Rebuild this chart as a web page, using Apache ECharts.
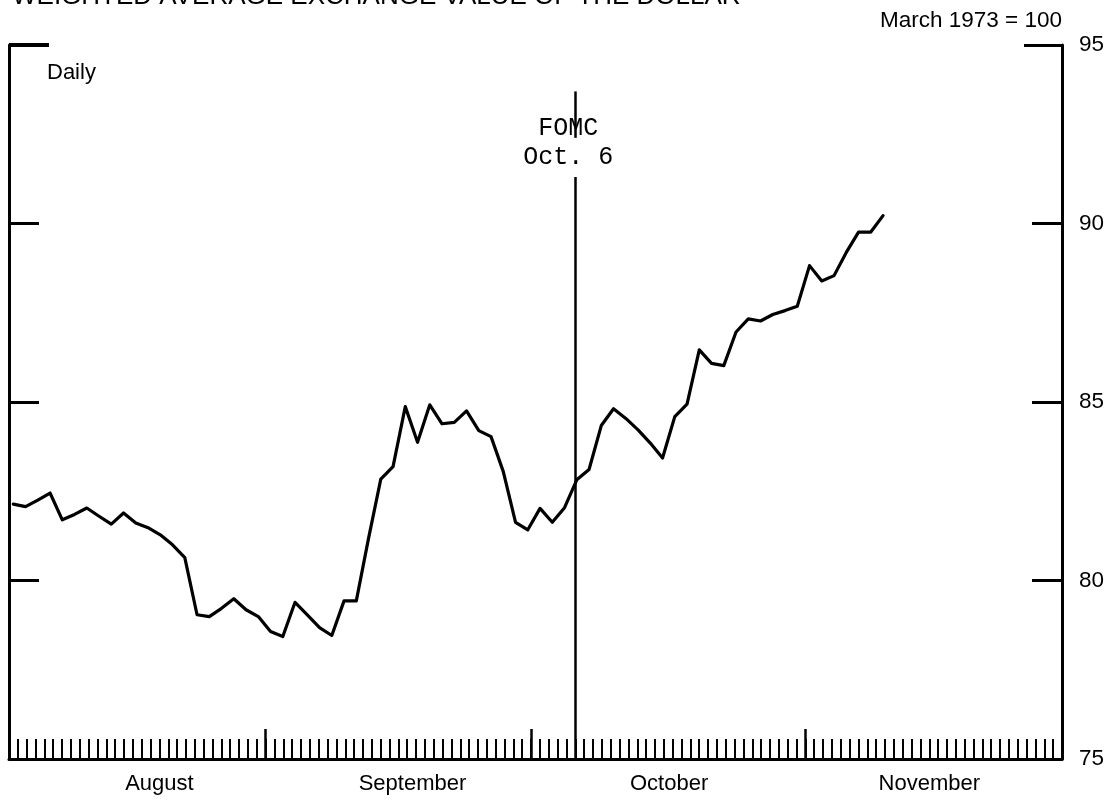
<!DOCTYPE html>
<html>
<head>
<meta charset="utf-8">
<title>Weighted Average Exchange Value of the Dollar</title>
<script src="https://cdn.jsdelivr.net/npm/echarts@6/dist/echarts.min.js"></script>
<style>
  html, body { margin: 0; padding: 0; background: #fff; }
  #chart { width: 1115px; height: 802px; }
</style>
</head>
<body>
<div id="chart"></div>
<script>
// Daily index values (March 1973 = 100), one per business day, in order.
const dailyIndex = [
  82.14, 82.07, 82.25, 82.45, 81.70, 81.85, 82.03, 81.80, 81.58, 81.89,
  81.61, 81.48, 81.28, 81.00, 80.64, 79.04, 78.99, 79.22, 79.49, 79.18,
  78.99, 78.57, 78.43, 79.39, 79.04, 78.68, 78.46, 79.43, 79.43, 81.18,
  82.84, 83.19, 84.87, 83.87, 84.92, 84.39, 84.43, 84.75, 84.20, 84.03,
  83.05, 81.63, 81.42, 82.02, 81.63, 82.04, 82.82, 83.11, 84.34, 84.81,
  84.54, 84.22, 83.85, 83.43, 84.59, 84.94, 86.46, 86.08, 86.02, 86.96,
  87.33, 87.27, 87.45, 87.56, 87.68, 88.82, 88.39, 88.54, 89.19, 89.76,
  89.76, 90.22
];

// Calendar: day numbers counted from August 1 = 1.
const monthNames = ['August', 'September', 'October', 'November'];
const monthStartDays = [32, 62, 93];          // Sep 1, Oct 1, Nov 1
const monthLabelDays = [20, 48.6, 77.6, 107];  // where each month name sits
const calendarStart = 3;                        // Aug 3
const calendarEnd = 122;                        // Nov 30

// FOMC meeting, Oct. 6
const fomcDay = 67;
const fomcLabel = ['FOMC', 'Oct. 6'];

// Index scale
const yTicks = [75, 80, 85, 90, 95];

const yMin = yTicks[0];
const yMax = yTicks[yTicks.length - 1];
const innerTicks = yTicks.filter(v => v > yMin && v < yMax);

const sans = 'Liberation Sans, Arial, Helvetica, sans-serif';
const mono = 'Liberation Mono, Courier New, monospace';
const ink = '#000';

const chart = echarts.init(document.getElementById('chart'), null, { renderer: 'canvas' });

const yBase = {
  type: 'value', min: yMin, max: yMax, interval: 5,
  splitLine: { show: false },
  axisLabel: { show: false }
};

chart.setOption({
  backgroundColor: '#fff',
  animation: false,
  title: [
    {
      text: 'WEIGHTED AVERAGE EXCHANGE VALUE OF THE DOLLAR',
      left: 12, top: -16, padding: 0,
      textStyle: { fontFamily: sans, fontSize: 26, lineHeight: 26, fontWeight: 'normal', color: ink }
    },
    {
      text: 'March 1973 = 100',
      right: 53, top: 9, padding: 0,
      textStyle: { fontFamily: sans, fontSize: 22.5, lineHeight: 23, fontWeight: 'normal', color: ink }
    },
    {
      text: 'Daily',
      left: 47, top: 62, padding: 0,
      textStyle: { fontFamily: sans, fontSize: 22, lineHeight: 22, fontWeight: 'normal', color: ink }
    }
  ],
  grid: { left: 9, right: 53, top: 45, bottom: 43, containLabel: false, outerBoundsMode: 'none' },
  xAxis: [
    { // calendar days with a tick for every day
      type: 'value', position: 'bottom',
      min: calendarStart, max: calendarEnd, interval: 1,
      splitLine: { show: false },
      axisLine: { show: true, onZero: false, lineStyle: { color: ink, width: 3 } },
      axisTick: { show: true, inside: true, length: 20, lineStyle: { color: ink, width: 2 } },
      axisLabel: {
        show: true,
        customValues: monthLabelDays,
        formatter: v => monthNames[monthLabelDays.indexOf(v)] || '',
        fontFamily: sans, fontSize: 22, lineHeight: 22, color: ink, margin: 14
      }
    },
    { // longer ticks at the start of each month
      type: 'value', position: 'bottom',
      min: calendarStart, max: calendarEnd,
      splitLine: { show: false },
      axisLine: { show: false, onZero: false },
      axisTick: { show: true, inside: true, length: 30, customValues: monthStartDays, lineStyle: { color: ink, width: 2.5 } },
      axisLabel: { show: false }
    },
    { // observation index for the daily series
      type: 'value', show: false,
      min: -0.351, max: 85.61,
      axisLine: { onZero: false }
    }
  ],
  yAxis: [
    Object.assign({}, yBase, {
      position: 'right',
      axisLine: { show: true, onZero: false, lineStyle: { color: ink, width: 3 } },
      axisTick: { show: true, inside: true, length: 30, customValues: innerTicks, lineStyle: { color: ink, width: 3 } },
      axisLabel: { show: true, fontFamily: sans, fontSize: 22.5, color: ink, margin: 17 }
    }),
    Object.assign({}, yBase, {
      position: 'left',
      axisLine: { show: true, onZero: false, lineStyle: { color: ink, width: 3 } },
      axisTick: { show: true, inside: true, length: 30, customValues: innerTicks, lineStyle: { color: ink, width: 3 } }
    }),
    Object.assign({}, yBase, {
      position: 'right',
      axisLine: { show: false, onZero: false },
      axisTick: { show: true, inside: true, length: 38, customValues: [yMax], lineStyle: { color: ink, width: 3 } }
    }),
    Object.assign({}, yBase, {
      position: 'left',
      axisLine: { show: false, onZero: false },
      axisTick: { show: true, inside: true, length: 40, customValues: [yMax], lineStyle: { color: ink, width: 4 } }
    })
  ],
  series: [
    {
      name: 'Daily',
      type: 'line',
      xAxisIndex: 2, yAxisIndex: 0,
      data: dailyIndex.map((v, i) => [i, v]),
      symbol: 'none', showSymbol: false, silent: true,
      lineStyle: { color: ink, width: 3.2, join: 'round', cap: 'round' }
    },
    {
      name: 'FOMC',
      type: 'line',
      xAxisIndex: 0, yAxisIndex: 0,
      data: [],
      silent: true,
      markLine: {
        silent: true,
        symbol: ['none', 'none'],
        label: { show: false },
        lineStyle: { color: ink, width: 2.5, type: 'solid' },
        data: [
          [{ coord: [fomcDay, yMin] }, { coord: [fomcDay, 91.3] }],
          [{ coord: [fomcDay, 92.4] }, { coord: [fomcDay, 93.7] }]
        ]
      },
      markPoint: {
        silent: true,
        symbol: 'rect', symbolSize: 1,
        itemStyle: { color: 'rgba(0,0,0,0)' },
        label: {
          show: true, position: 'inside', offset: [-7, 0],
          formatter: fomcLabel.join('\n'),
          fontFamily: mono, fontSize: 25, lineHeight: 29, color: ink
        },
        data: [{ coord: [fomcDay, 92.27] }]
      }
    }
  ]
});
</script>
</body>
</html>
